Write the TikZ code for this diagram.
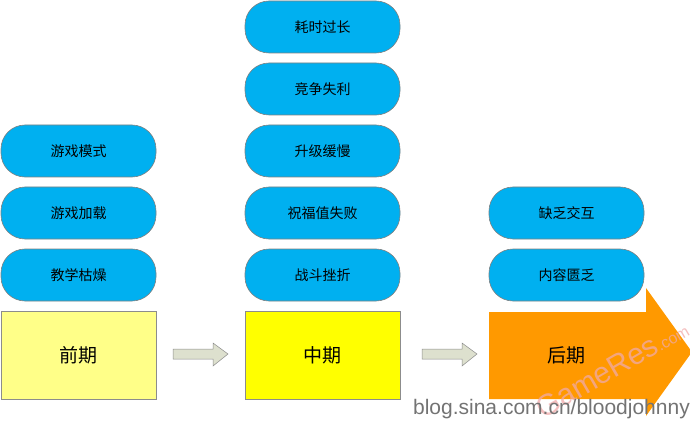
\documentclass[tikz,border=0pt]{standalone}
\usepackage{fontspec}
\setmainfont{Liberation Sans}
\newfontfamily\cjk{Noto Sans CJK SC}
\definecolor{pillc}{RGB}{0,176,240}
\definecolor{pale}{RGB}{255,255,136}
\definecolor{yel}{RGB}{255,255,0}
\definecolor{orng}{RGB}{255,153,0}
\definecolor{garr}{RGB}{221,224,206}
\definecolor{wmc}{RGB}{240,170,170}
\begin{document}
\begin{tikzpicture}[x=1pt,y=-1pt,
 pill/.style={draw=black!50,line width=0.6pt,fill=pillc,rounded corners=24pt,minimum width=155pt,minimum height=52pt,font=\cjk\fontsize{14}{16}\selectfont,inner sep=0},
 stage/.style={draw=black!45,line width=0.6pt,minimum width=155pt,minimum height=88pt,font=\cjk\fontsize{19}{21}\selectfont,inner sep=0},
 garrow/.style={draw=black!45,fill=garr,line width=0.5pt}]
\useasboundingbox (0,0) rectangle (690,422);
% column 1
\node[pill] (a1) at (78.5,151) {游戏模式};
\node[pill] (a2) at (78.5,213) {游戏加载};
\node[pill] (a3) at (78.5,275) {教学枯燥};
\node[stage,fill=pale] (s1) at (78.5,355) {前期};
% column 2
\node[pill] (b1) at (322.5,27) {耗时过长};
\node[pill] (b2) at (322.5,89) {竞争失利};
\node[pill] (b3) at (322.5,151) {升级缓慢};
\node[pill] (b4) at (322.5,213) {祝福值失败};
\node[pill] (b5) at (322.5,275) {战斗挫折};
\node[stage,fill=yel] (s2) at (322.5,355) {中期};
% column 3
\node[pill] (c1) at (566.5,213) {缺乏交互};
\node[pill] (c2) at (566.5,275) {内容匮乏};
\fill[orng] (489,312) -- (646,312) -- (646,288) -- (692,352) -- (646,416) -- (646,399) -- (489,399) -- cycle;
\node[font=\cjk\fontsize{19}{21}\selectfont,inner sep=0] (s3) at (566.5,355) {后期};
% gray arrows
\draw[garrow] (173,349) -- (213,349) -- (213,343) -- (228,354) -- (213,366) -- (213,359) -- (173,359) -- cycle;
\draw[garrow] (422,349) -- (462,349) -- (462,343) -- (477,354) -- (462,366) -- (462,359) -- (422,359) -- cycle;
% watermarks
\node[text=wmc,opacity=0.75,font=\fontsize{30}{32}\selectfont,rotate=30,inner sep=0] (wm) at (612,368) {GameRes\fontsize{16}{18}\selectfont.com};
\node[text=black!55,font=\fontsize{21}{23}\selectfont,anchor=east,inner sep=0] (blog) at (690,409) {blog.sina.com.cn/bloodjohnny};
\end{tikzpicture}
\end{document}
